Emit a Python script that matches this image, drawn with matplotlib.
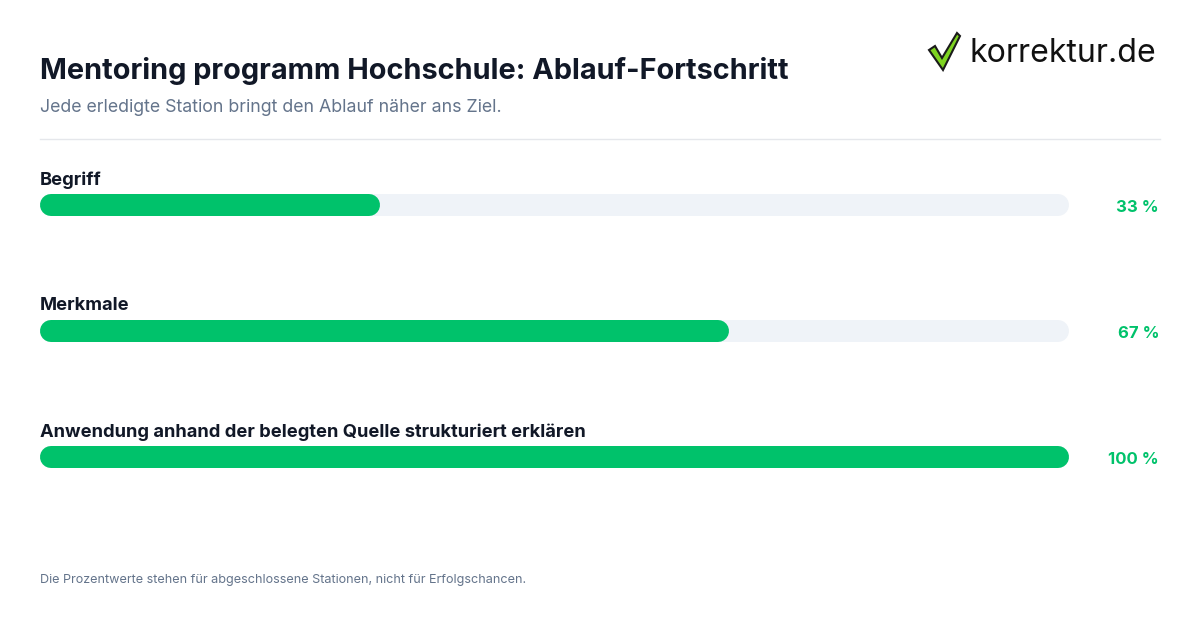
import matplotlib
matplotlib.use("Agg")
import matplotlib.pyplot as plt
from matplotlib.patches import Polygon

labels = ["Begriff", "Merkmale", "Anwendung anhand der belegten Quelle strukturiert erklären"]
values = [33, 67, 100]
value_texts = ["33 %", "67 %", "100 %"]

GREEN = "#00c26b"
TRACK = "#eff3f8"
DARK = "#111827"
GREY = "#64748b"
plt.rcParams['font.family'] = ['Inter', 'DejaVu Sans']

fig = plt.figure(figsize=(12, 6.3), dpi=100)
bg = fig.add_axes([0, 0, 1, 1])
bg.set_xlim(0, 1200); bg.set_ylim(630, 0); bg.axis("off")

bg.text(40, 71, "Mentoring programm Hochschule: Ablauf-Fortschritt", fontsize=20.8, weight="bold",
        color=DARK, va="center")
bg.text(40, 108, "Jede erledigte Station bringt den Ablauf näher ans Ziel.", fontsize=12.8,
        color=GREY, va="center")
bg.plot([40, 1160], [138.5, 138.5], color="#e5e7eb", lw=1)
bg.text(40, 580, "Die Prozentwerte stehen für abgeschlossene Stationen, nicht für Erfolgschancen.",
        fontsize=9.1, color=GREY, va="center")

# logo
bg.add_patch(Polygon([[929, 50], [935, 46], [942, 58], [957, 33], [960, 36], [943, 70]],
                     closed=True, facecolor="#7ed321", edgecolor="#1a1a1a", lw=1.5))
bg.text(970, 54, "korrektur.de", fontsize=23.1, color="#111111", va="center")

# bars: axes spans the full track, pixel 40..1069
x0, x1 = 40, 1069
ax = fig.add_axes([x0 / 1200, 0, (x1 - x0) / 1200, 1])
ax.set_xlim(0, 100); ax.set_ylim(630, 0); ax.axis("off")
bar_h = 22
r = (bar_h / 2) / (x1 - x0) * 100  # cap radius in data units
ys = [205, 331, 457]
lw = bar_h * 0.72
for lab, v, t, y in zip(labels, values, value_texts, ys):
    ax.plot([r, 100 - r], [y, y], color=TRACK, lw=lw, solid_capstyle="round", clip_on=False)
    ax.plot([r, v - r], [y, y], color=GREEN, lw=lw, solid_capstyle="round", clip_on=False)
    bg.text(40, y - 25, lab, fontsize=13.2, weight="bold", color=DARK, va="center")
    bg.text(1159, y + 3, t, fontsize=12, weight="bold", color=GREEN, va="center", ha="right")

fig.savefig("out.png", dpi=100)
